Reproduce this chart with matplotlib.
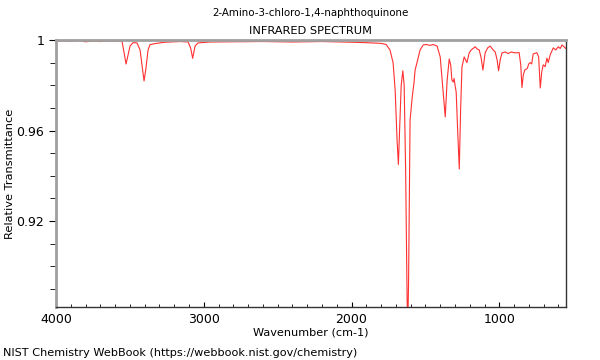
import numpy as np
import matplotlib
matplotlib.use('Agg')
import matplotlib.pyplot as plt
from matplotlib.ticker import MultipleLocator, FuncFormatter

# spectrum (wavenumber cm-1, relative transmittance)
wavenumber = [4000, 3950, 3900, 3850, 3800, 3750, 3700, 3650, 3600, 3570, 3553,
              3540, 3526, 3512, 3499, 3479, 3452, 3431, 3418, 3404, 3391, 3377,
              3364, 3330, 3262, 3161, 3106, 3089, 3075, 3059, 3039, 2957, 2800,
              2600, 2400, 2200, 2000, 1900, 1800, 1766, 1740, 1719, 1705, 1692,
              1683, 1675, 1664, 1653, 1644, 1634, 1624, 1619, 1614, 1604, 1590,
              1577, 1570, 1556, 1536, 1515, 1495, 1468, 1448, 1421, 1400, 1387,
              1366, 1353, 1339, 1329, 1321, 1312, 1306, 1299, 1292, 1282, 1271,
              1262, 1253, 1238, 1219, 1204, 1190, 1163, 1150, 1136, 1123, 1111,
              1096, 1079, 1062, 1042, 1028, 1015, 1005, 994, 982, 960, 940, 920,
              893, 866, 855, 847, 838, 828, 811, 801, 791, 781, 771, 746, 734,
              723, 713, 703, 690, 678, 669, 656, 635, 618, 601, 588, 576, 564, 549]
transmittance = [0.9993, 0.9996, 0.9994, 0.9997, 0.9992, 0.9995, 0.9993, 0.9996, 0.9994, 0.9995, 0.9994,
                 0.9947, 0.9894, 0.9934, 0.9973, 0.9988, 0.9987, 0.9956, 0.9889, 0.9819, 0.9876, 0.9956,
                 0.9979, 0.9984, 0.9990, 0.9993, 0.9991, 0.9965, 0.9919, 0.9973, 0.9987, 0.9991, 0.9992,
                 0.9993, 0.9991, 0.9993, 0.9990, 0.9988, 0.9985, 0.9980, 0.9956, 0.9900, 0.9780, 0.9558,
                 0.9450, 0.9600, 0.9800, 0.9864, 0.9800, 0.9425, 0.8850, 0.8750, 0.8940, 0.9646, 0.9744,
                 0.9814, 0.9867, 0.9903, 0.9956, 0.9978, 0.9980, 0.9976, 0.9980, 0.9973, 0.9925, 0.9823,
                 0.9660, 0.9823, 0.9916, 0.9890, 0.9823, 0.9814, 0.9830, 0.9797, 0.9770, 0.9600, 0.9430,
                 0.9690, 0.9880, 0.9925, 0.9900, 0.9943, 0.9956, 0.9970, 0.9960, 0.9956, 0.9920, 0.9867,
                 0.9943, 0.9965, 0.9973, 0.9956, 0.9947, 0.9912, 0.9864, 0.9912, 0.9943, 0.9947, 0.9940, 0.9947,
                 0.9943, 0.9944, 0.9890, 0.9790, 0.9845, 0.9867, 0.9874, 0.9894, 0.9900, 0.9894, 0.9938, 0.9944, 0.9925,
                 0.9788, 0.9859, 0.9890, 0.9882, 0.9920, 0.9900, 0.9934, 0.9965, 0.9956, 0.9970, 0.9962, 0.9978, 0.9971, 0.9962]

fig = plt.figure(figsize=(6, 3.6), dpi=100)
ax = fig.add_axes([0.0933, 0.147, 0.85, 0.742])
ax.plot(wavenumber, transmittance, color='#ff3030', lw=0.8)

ax.set_xlim(4000, 549)
ax.set_ylim(0.882, 1.0)
ax.xaxis.set_major_locator(MultipleLocator(1000))
ax.xaxis.set_minor_locator(MultipleLocator(100))
ax.yaxis.set_major_locator(MultipleLocator(0.04))
ax.yaxis.set_minor_locator(MultipleLocator(0.01))
ax.yaxis.set_major_formatter(FuncFormatter(lambda v, p: '%g' % round(v, 4)))

ax.tick_params(axis='x', which='major', direction='in', length=3.5, labelsize=9, pad=4)
ax.tick_params(axis='x', which='minor', direction='in', length=2)
ax.tick_params(axis='y', which='major', direction='out', length=5, labelsize=9)
ax.tick_params(axis='y', which='minor', direction='out', length=4)

for s in ['left', 'top']:
    ax.spines[s].set_color('#a0a0a0')
    ax.spines[s].set_linewidth(2)
for s in ['bottom', 'right']:
    ax.spines[s].set_color('#333333')
    ax.spines[s].set_linewidth(1)

ax.set_xlabel('Wavenumber (cm-1)', fontsize=8.1, labelpad=1)
ax.set_ylabel('Relative Transmittance', fontsize=8.2)
ax.yaxis.set_label_coords(-0.08, 0.5)
fig.text(0.518, 0.963, '2-Amino-3-chloro-1,4-naphthoquinone', ha='center', va='center', fontsize=7.4)
fig.text(0.518, 0.915, 'INFRARED SPECTRUM', ha='center', va='center', fontsize=8.2)
fig.text(0.005, 0.012, 'NIST Chemistry WebBook (https://webbook.nist.gov/chemistry)', fontsize=8.1)

fig.savefig('out.png', dpi=100)
